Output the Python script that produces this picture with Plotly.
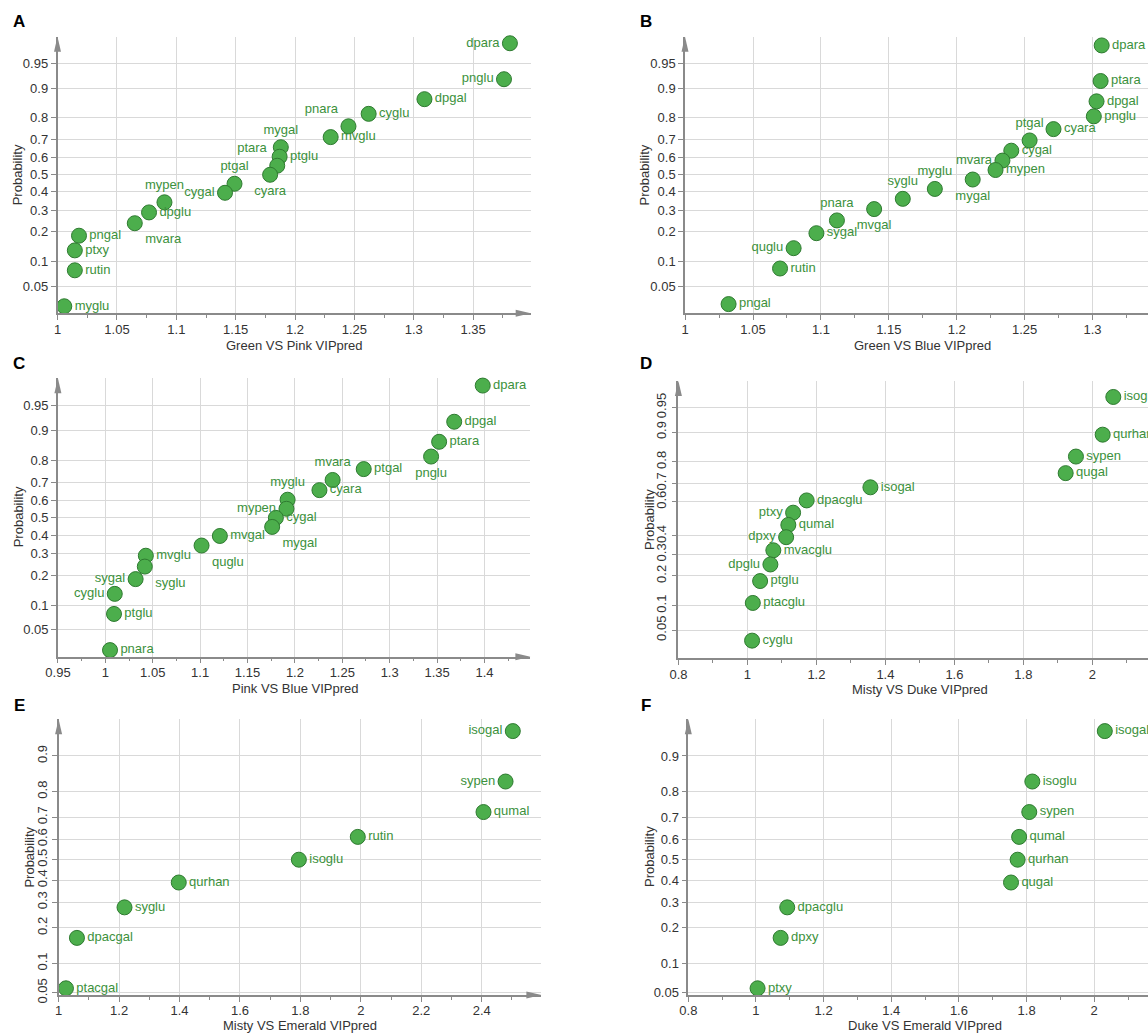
import plotly.graph_objects as go
from statistics import NormalDist

W, H = 1148, 1033
_nd = NormalDist()


def probit(p):
    return _nd.inv_cdf(p)


# ---------------- data ----------------
names_A = ["dpara", "pnglu", "dpgal", "cyglu", "pnara", "mvglu", "mygal", "ptglu", "ptara", "cyara",
           "ptgal", "cygal", "mypen", "dpglu", "mvara", "pngal", "ptxy", "rutin", "myglu"]
vip_A = [1.381, 1.376, 1.309, 1.262, 1.245, 1.230, 1.188, 1.187, 1.185, 1.179,
         1.149, 1.141, 1.090, 1.077, 1.065, 1.018, 1.0145, 1.0145, 1.0056]
prob_A = [0.974, 0.921, 0.868, 0.816, 0.763, 0.711, 0.658, 0.605, 0.553, 0.500,
          0.447, 0.395, 0.342, 0.289, 0.237, 0.184, 0.132, 0.079, 0.026]

names_B = ["dpara", "ptara", "dpgal", "pnglu", "cyara", "ptgal", "cygal", "mvara", "mypen", "mygal",
           "myglu", "syglu", "mvgal", "pnara", "sygal", "quglu", "rutin", "pngal"]
vip_B = [1.3068, 1.306, 1.303, 1.301, 1.2713, 1.2537, 1.2402, 1.2337, 1.2286, 1.2118,
         1.1839, 1.1603, 1.1392, 1.1118, 1.0967, 1.0799, 1.0699, 1.032]
prob_B = [0.972, 0.917, 0.861, 0.806, 0.750, 0.694, 0.639, 0.583, 0.528, 0.472,
          0.417, 0.361, 0.306, 0.250, 0.194, 0.139, 0.083, 0.028]

names_C = ["dpara", "dpgal", "ptara", "pnglu", "ptgal", "mvara", "cyara", "myglu", "mypen", "cygal",
           "mygal", "mvgal", "quglu", "mvglu", "syglu", "sygal", "cyglu", "ptglu", "pnara"]
vip_C = [1.3982, 1.3681, 1.3522, 1.3437, 1.2726, 1.2398, 1.2259, 1.1923, 1.1911, 1.1799,
         1.1760, 1.1208, 1.1015, 1.0427, 1.0416, 1.0319, 1.0099, 1.0091, 1.0049]
prob_C = [0.974, 0.921, 0.868, 0.816, 0.763, 0.711, 0.658, 0.605, 0.553, 0.500,
          0.447, 0.395, 0.342, 0.289, 0.237, 0.184, 0.132, 0.079, 0.026]

names_D = ["isoglu", "qurhan", "sypen", "qugal", "isogal", "dpacglu", "ptxy", "qumal", "dpxy",
           "mvacglu", "dpglu", "ptglu", "ptacglu", "cyglu"]
vip_D = [2.0606, 2.0298, 1.9523, 1.9225, 1.3565, 1.1717, 1.1324, 1.1186, 1.1122,
         1.0751, 1.0666, 1.0368, 1.0156, 1.0135]
prob_D = [0.964, 0.893, 0.821, 0.750, 0.679, 0.607, 0.536, 0.464, 0.393,
          0.321, 0.250, 0.179, 0.107, 0.036]

names_E = ["isogal", "sypen", "qumal", "rutin", "isoglu", "qurhan", "syglu", "dpacgal", "ptacgal"]
vip_E = [2.503, 2.479, 2.406, 1.990, 1.795, 1.3975, 1.218, 1.0606, 1.0242]
prob_E = [0.944, 0.833, 0.722, 0.611, 0.500, 0.389, 0.278, 0.167, 0.056]

names_F = ["isogal", "isoglu", "sypen", "qumal", "qurhan", "qugal", "dpacglu", "dpxy", "ptxy"]
vip_F = [2.0313, 1.817, 1.808, 1.778, 1.7736, 1.754, 1.0924, 1.0729, 1.0047]
prob_F = [0.944, 0.833, 0.722, 0.611, 0.500, 0.389, 0.278, 0.167, 0.056]

yticks_full = [0.05, 0.1, 0.2, 0.3, 0.4, 0.5, 0.6, 0.7, 0.8, 0.9, 0.95]
yticks_D = [0.05, 0.1, 0.2, 0.3, 0.4, 0.6, 0.7, 0.8, 0.9, 0.95]
yticks_EF = [0.05, 0.1, 0.2, 0.3, 0.4, 0.5, 0.6, 0.7, 0.8, 0.9]

x_titles = ["Green VS Pink VIPpred", "Green VS Blue VIPpred", "Pink VS Blue VIPpred",
            "Misty VS Duke VIPpred", "Misty VS Emerald VIPpred", "Duke VS Emerald VIPpred"]
panel_letters = ["A", "B", "C", "D", "E", "F"]

# ---------------- styling ----------------
R, L = "middle right", "middle left"
TC, BC, TL, BR = "top center", "bottom center", "top left", "bottom right"
pos_A = [L, L, R, R, TL, R, TC, R, TL, BC, TC, L, TC, R, BR, R, R, R, R]
pos_B = [R, R, R, R, R, TC, R, L, R, BC, TC, TC, BC, TC, R, L, R, R]
pos_C = [R, R, R, BC, R, TC, R, TC, L, R, BR, R, BR, R, BR, L, L, R, R]
pos_D = [R, R, R, R, R, R, L, R, L, R, L, R, R, R]
pos_E = [L, L, R, R, R, R, R, R, R]
pos_F = [R] * 9

FONT = "Liberation Sans, Arial, Helvetica, sans-serif"
GREEN_FILL = "#4cae4c"
GREEN_LINE = "#2e7a30"
GREEN_TEXT = "#3c913c"
AXIS_COL = "#8a8a8a"
GRID_COL = "#d9d9d9"
TEXT_COL = "#333333"

panels = [
    dict(names=names_A, x=vip_A, p=prob_A, pos=pos_A, xpx=(57.5, 530.7), ypx=(36.7, 313.3),
         xr=(0.9999, 1.3985), yr=(-2.047, 2.04), dt=0.05, yt=yticks_full, ang=0,
         xt=(294, 345), yt_xy=(18.3, 175), let=(19, 22), xarrow=True),
    dict(names=names_B, x=vip_B, p=prob_B, pos=pos_B, xpx=(685.0, 1148), ypx=(36.7, 313.3),
         xr=(0.9999, 1.3409), yr=(-2.047, 2.04), dt=0.05, yt=yticks_full, ang=0,
         xt=(922, 345), yt_xy=(645.4, 175), let=(646, 22), xarrow=False),
    dict(names=names_C, x=vip_C, p=prob_C, pos=pos_C, xpx=(57.9, 530.4), ypx=(378.3, 656.7),
         xr=(0.9499, 1.4485), yr=(-2.04, 2.05), dt=0.05, yt=yticks_full, ang=0,
         xt=(295, 688), yt_xy=(18.3, 517), let=(19, 363), xarrow=True),
    dict(names=names_D, x=vip_D, p=prob_D, pos=pos_D, xpx=(678.4, 1148), ypx=(381.0, 658.3),
         xr=(0.7999, 2.1612), yr=(-2.06, 2.035), dt=0.2, yt=yticks_D, ang=-90,
         xt=(920, 689), yt_xy=(649, 520), let=(646, 363), xarrow=False),
    dict(names=names_E, x=vip_E, p=prob_E, pos=pos_E, xpx=(58.6, 541.4), ypx=(719.3, 995.0),
         xr=(0.9999, 2.5976), yr=(-1.672, 1.735), dt=0.2, yt=yticks_EF, ang=-90,
         xt=(300, 1025), yt_xy=(28.6, 857), let=(19, 705), xarrow=True),
    dict(names=names_F, x=vip_F, p=prob_F, pos=pos_F, xpx=(688.3, 1148), ypx=(719.3, 995.0),
         xr=(0.7999, 2.159), yr=(-1.672, 1.735), dt=0.2, yt=yticks_EF, ang=0,
         xt=(925, 1025), yt_xy=(649, 857), let=(646, 705), xarrow=False),
]


def px2x(px):
    return px / W


def py2y(py):
    return 1 - py / H


fig = go.Figure()
annotations = []
shapes = []

for i, pn in enumerate(panels):
    k = "" if i == 0 else str(i + 1)
    xa, ya = "x" + k, "y" + k
    fig.add_trace(go.Scatter(
        x=pn["x"], y=[probit(v) for v in pn["p"]],
        mode="markers+text", text=pn["names"], textposition=pn["pos"],
        textfont=dict(family=FONT, size=13, color=GREEN_TEXT),
        marker=dict(size=15, color=GREEN_FILL, line=dict(color=GREEN_LINE, width=1)),
        cliponaxis=False, xaxis=xa, yaxis=ya, hoverinfo="x+y+text",
    ))
    x0, x1 = pn["xpx"]
    y0, y1 = pn["ypx"]
    fig.layout["xaxis" + k] = dict(
        domain=[px2x(x0), min(1.0, px2x(x1))], range=list(pn["xr"]), anchor=ya,
        tick0=0, dtick=pn["dt"], ticks="outside", ticklen=5, tickwidth=1, tickcolor=AXIS_COL,
        showgrid=True, gridcolor=GRID_COL, gridwidth=1, zeroline=False,
        showline=True, linecolor=AXIS_COL, linewidth=1.5, ticklabelstandoff=-2,
        tickfont=dict(family=FONT, size=13, color=TEXT_COL), automargin=False,
        minor=dict(dtick=pn["dt"] / 2, ticks="outside", ticklen=3, tickcolor=AXIS_COL, showgrid=False),
    )
    fig.layout["yaxis" + k] = dict(
        domain=[py2y(y1), py2y(y0)], range=list(pn["yr"]), anchor=xa,
        tickmode="array", tickvals=[probit(v) for v in pn["yt"]], ticktext=[str(v) for v in pn["yt"]],
        ticks="outside", ticklen=5, tickwidth=1, tickcolor=AXIS_COL, tickangle=pn["ang"],
        showgrid=True, gridcolor=GRID_COL, gridwidth=1, zeroline=False,
        showline=True, linecolor=AXIS_COL, linewidth=1.5,
        tickfont=dict(family=FONT, size=13, color=TEXT_COL), automargin=False,
    )
    # axis arrows (decoration)
    L_ar, Wd = 15, 3.5
    shapes.append(dict(
        type="path", xref="paper", yref="paper", fillcolor=AXIS_COL, line=dict(width=0),
        path=f"M {px2x(x0)},{py2y(y0)} L {px2x(x0 - Wd)},{py2y(y0 + L_ar)} L {px2x(x0 + Wd)},{py2y(y0 + L_ar)} Z"))
    if pn["xarrow"]:
        shapes.append(dict(
            type="path", xref="paper", yref="paper", fillcolor=AXIS_COL, line=dict(width=0),
            path=f"M {px2x(x1)},{py2y(y1)} L {px2x(x1 - L_ar)},{py2y(y1 - Wd)} L {px2x(x1 - L_ar)},{py2y(y1 + Wd)} Z"))
    # titles
    annotations.append(dict(text=x_titles[i], x=px2x(pn["xt"][0]), y=py2y(pn["xt"][1]), xref="paper",
                            yref="paper", showarrow=False, xanchor="center", yanchor="middle",
                            font=dict(family=FONT, size=13, color=TEXT_COL)))
    annotations.append(dict(text="Probability", x=px2x(pn["yt_xy"][0]), y=py2y(pn["yt_xy"][1]),
                            xref="paper", yref="paper", showarrow=False, textangle=-90,
                            xanchor="center", yanchor="middle",
                            font=dict(family=FONT, size=13, color=TEXT_COL)))
    annotations.append(dict(text="<b>" + panel_letters[i] + "</b>", x=px2x(pn["let"][0]),
                            y=py2y(pn["let"][1]), xref="paper", yref="paper", showarrow=False,
                            xanchor="center", yanchor="middle",
                            font=dict(family=FONT, size=17, color="#000000")))

fig.update_layout(
    width=W, height=H, margin=dict(l=0, r=0, t=0, b=0), template="none",
    paper_bgcolor="white", plot_bgcolor="white", showlegend=False,
    annotations=annotations, shapes=shapes, font=dict(family=FONT),
)

fig.write_html("out.html", config={"displayModeBar": False},
               post_script="document.body.style.margin='0px';document.body.style.padding='0px';")
